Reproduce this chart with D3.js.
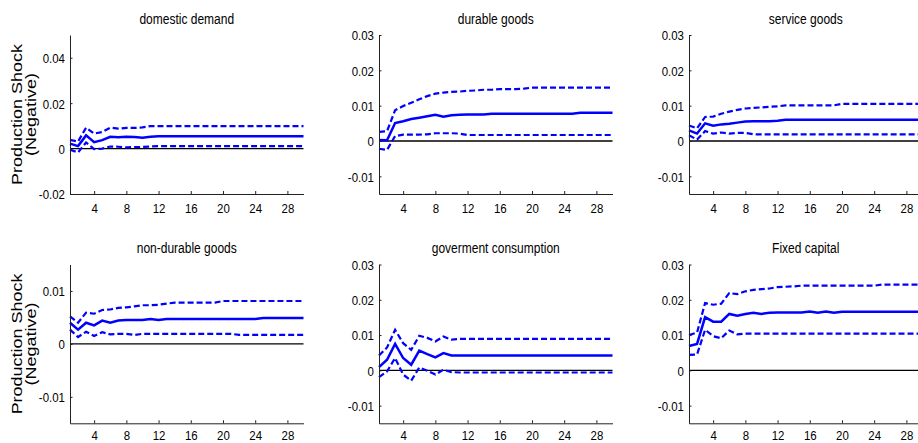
<!DOCTYPE html>
<html>
<head>
<meta charset="utf-8">
<script src="https://cdn.jsdelivr.net/npm/d3@7"></script>
<style>
  html, body { margin: 0; padding: 0; background: #fff; }
  svg { display: block; }
  text { font-family: "Liberation Sans", Arial, Helvetica, sans-serif; fill: #000; }
</style>
</head>
<body>
<svg id="chart" width="918" height="443"></svg>
<script>
// ---------- DATA ----------
const periods = [1,2,3,4,5,6,7,8,9,10,11,12,13,14,15,16,17,18,19,20,21,22,23,24,25,26,27,28,29,30];
const xTickValues = [4, 8, 12, 16, 20, 24, 28];
const yLabelLines = ["Production Shock", "(Negative)"];
const titles = ["domestic demand", "durable goods", "service goods", "non-durable goods", "goverment consumption", "Fixed capital"];

const domesticDemandMid = [
  0.0022,0.0011,0.0058,0.0028,0.0037,0.0052,0.0050,0.0052,0.0051,0.0048,
  0.0052,0.0054,0.0054,0.0054,0.0054,0.0054,0.0054,0.0054,0.0054,0.0054,
  0.0054,0.0054,0.0054,0.0054,0.0054,0.0054,0.0054,0.0054,0.0054,0.0054];
const domesticDemandUpper = [
  0.0038,0.0031,0.0092,0.0066,0.0073,0.0092,0.0088,0.0091,0.0091,0.0093,
  0.0099,0.0099,0.0099,0.0099,0.0099,0.0099,0.0099,0.0099,0.0099,0.0099,
  0.0099,0.0099,0.0099,0.0099,0.0099,0.0099,0.0099,0.0099,0.0099,0.0099];
const domesticDemandLower = [
  -0.0005,-0.0017,0.0027,-0.0002,0.0000,0.0009,0.0008,0.0005,0.0007,0.0007,
  0.0009,0.0011,0.0011,0.0011,0.0011,0.0011,0.0011,0.0011,0.0011,0.0011,
  0.0011,0.0011,0.0011,0.0011,0.0011,0.0011,0.0011,0.0011,0.0011,0.0011];

const durableMid = [
  0.0003,0.0002,0.0051,0.0056,0.0062,0.0066,0.0070,0.0074,0.0069,0.0073,
  0.0074,0.0075,0.0075,0.0075,0.0077,0.0077,0.0077,0.0077,0.0077,0.0077,
  0.0077,0.0077,0.0077,0.0077,0.0077,0.0080,0.0080,0.0080,0.0080,0.0080];
const durableUpper = [
  0.0026,0.0028,0.0087,0.0099,0.0108,0.0118,0.0127,0.0134,0.0137,0.0139,
  0.0140,0.0142,0.0143,0.0145,0.0145,0.0147,0.0147,0.0147,0.0148,0.0151,
  0.0151,0.0151,0.0151,0.0151,0.0151,0.0151,0.0151,0.0151,0.0151,0.0151];
const durableLower = [
  -0.0022,-0.0025,0.0014,0.0018,0.0018,0.0018,0.0019,0.0022,0.0022,0.0022,
  0.0021,0.0017,0.0017,0.0017,0.0017,0.0017,0.0017,0.0017,0.0017,0.0017,
  0.0017,0.0017,0.0017,0.0017,0.0017,0.0017,0.0017,0.0017,0.0017,0.0017];

const serviceMid = [
  0.0030,0.0021,0.0050,0.0043,0.0047,0.0049,0.0052,0.0055,0.0056,0.0056,
  0.0056,0.0057,0.0060,0.0060,0.0060,0.0060,0.0060,0.0060,0.0060,0.0060,
  0.0060,0.0060,0.0060,0.0060,0.0060,0.0060,0.0060,0.0060,0.0060,0.0060];
const serviceUpper = [
  0.0044,0.0036,0.0068,0.0069,0.0077,0.0083,0.0088,0.0092,0.0094,0.0095,
  0.0097,0.0098,0.0101,0.0101,0.0101,0.0101,0.0101,0.0101,0.0101,0.0105,
  0.0105,0.0105,0.0105,0.0105,0.0105,0.0105,0.0105,0.0105,0.0105,0.0105];
const serviceLower = [
  0.0016,0.0004,0.0028,0.0021,0.0024,0.0021,0.0023,0.0023,0.0019,0.0019,
  0.0019,0.0019,0.0019,0.0019,0.0019,0.0019,0.0019,0.0019,0.0019,0.0019,
  0.0019,0.0019,0.0019,0.0019,0.0019,0.0019,0.0019,0.0019,0.0019,0.0019];

const nonDurableMid = [
  0.0040,0.0027,0.0040,0.0035,0.0044,0.0040,0.0044,0.0045,0.0045,0.0045,
  0.0047,0.0045,0.0047,0.0047,0.0047,0.0047,0.0047,0.0047,0.0047,0.0047,
  0.0047,0.0047,0.0047,0.0047,0.0049,0.0049,0.0049,0.0049,0.0049,0.0049];
const nonDurableUpper = [
  0.0052,0.0040,0.0059,0.0057,0.0064,0.0065,0.0068,0.0069,0.0071,0.0073,
  0.0073,0.0074,0.0076,0.0078,0.0078,0.0078,0.0078,0.0078,0.0078,0.0081,
  0.0081,0.0081,0.0081,0.0081,0.0081,0.0081,0.0081,0.0081,0.0081,0.0081];
const nonDurableLower = [
  0.0027,0.0013,0.0023,0.0015,0.0022,0.0018,0.0019,0.0019,0.0017,0.0019,
  0.0019,0.0019,0.0019,0.0019,0.0019,0.0019,0.0019,0.0019,0.0019,0.0019,
  0.0019,0.0017,0.0017,0.0017,0.0017,0.0017,0.0017,0.0017,0.0017,0.0017];

const governmentMid = [
  0.0009,0.0030,0.0075,0.0035,0.0016,0.0056,0.0046,0.0037,0.0049,0.0042,
  0.0042,0.0042,0.0042,0.0042,0.0042,0.0042,0.0042,0.0042,0.0042,0.0042,
  0.0042,0.0042,0.0042,0.0042,0.0042,0.0042,0.0042,0.0042,0.0042,0.0042];
const governmentUpper = [
  0.0042,0.0065,0.0115,0.0077,0.0058,0.0098,0.0092,0.0082,0.0096,0.0087,
  0.0089,0.0089,0.0089,0.0089,0.0089,0.0089,0.0089,0.0089,0.0089,0.0089,
  0.0089,0.0089,0.0089,0.0089,0.0089,0.0089,0.0089,0.0089,0.0089,0.0089];
const governmentLower = [
  -0.0019,-0.0003,0.0035,-0.0012,-0.0029,0.0008,-0.0001,-0.0012,0.0002,-0.0005,
  -0.0006,-0.0006,-0.0006,-0.0006,-0.0006,-0.0006,-0.0006,-0.0006,-0.0006,-0.0006,
  -0.0006,-0.0006,-0.0006,-0.0006,-0.0006,-0.0006,-0.0006,-0.0006,-0.0006,-0.0006];

const fixedCapitalMid = [
  0.0069,0.0075,0.0151,0.0138,0.0138,0.0160,0.0155,0.0160,0.0163,0.0160,
  0.0163,0.0164,0.0164,0.0164,0.0164,0.0167,0.0163,0.0167,0.0163,0.0166,
  0.0166,0.0166,0.0166,0.0166,0.0166,0.0166,0.0166,0.0166,0.0166,0.0166];
const fixedCapitalUpper = [
  0.0100,0.0107,0.0191,0.0186,0.0189,0.0219,0.0216,0.0224,0.0228,0.0230,
  0.0232,0.0236,0.0237,0.0238,0.0240,0.0240,0.0240,0.0240,0.0240,0.0240,
  0.0240,0.0240,0.0240,0.0240,0.0243,0.0243,0.0243,0.0243,0.0243,0.0243];
const fixedCapitalLower = [
  0.0044,0.0045,0.0115,0.0097,0.0091,0.0113,0.0102,0.0104,0.0104,0.0104,
  0.0104,0.0104,0.0104,0.0104,0.0104,0.0104,0.0104,0.0104,0.0104,0.0104,
  0.0104,0.0104,0.0104,0.0104,0.0104,0.0104,0.0104,0.0104,0.0104,0.0104];

const yDomains = [[-0.02, 0.05], [-0.015, 0.03], [-0.015, 0.03], [-0.015, 0.015], [-0.015, 0.03], [-0.015, 0.03]];
const yTickSets = [
  [-0.02, 0, 0.02, 0.04],
  [-0.01, 0, 0.01, 0.02, 0.03],
  [-0.01, 0, 0.01, 0.02, 0.03],
  [-0.01, 0, 0.01],
  [-0.01, 0, 0.01, 0.02, 0.03],
  [-0.01, 0, 0.01, 0.02, 0.03]
];
const seriesSets = [
  [domesticDemandMid, domesticDemandUpper, domesticDemandLower],
  [durableMid, durableUpper, durableLower],
  [serviceMid, serviceUpper, serviceLower],
  [nonDurableMid, nonDurableUpper, nonDurableLower],
  [governmentMid, governmentUpper, governmentLower],
  [fixedCapitalMid, fixedCapitalUpper, fixedCapitalLower]
];

// ---------- LAYOUT ----------
const colLeft = [70, 379, 689];
const plotW = 233.5;
const rowTop = [35, 264.5];
const rowBottom = [194, 423.3];
const xLabelOffset = [19.3, 16.3];
const blue = "#0000ff";
const tickScaleX = 0.85;

const svg = d3.select("#chart");

function fmtTick(v) {
  if (v === 0) return "0";
  return (v < 0 ? "-" : "") + Math.abs(v).toFixed(2);
}

seriesSets.forEach((series, i) => {
  const col = i % 3, row = Math.floor(i / 3);
  const x = d3.scaleLinear().domain([1, 30]).range([colLeft[col], colLeft[col] + plotW]);
  const y = d3.scaleLinear().domain(yDomains[i]).range([rowBottom[row], rowTop[row]]);
  const g = svg.append("g");

  // zero line
  g.append("line")
    .attr("x1", x(1)).attr("x2", x(30))
    .attr("y1", y(0)).attr("y2", y(0))
    .attr("stroke", "#000").attr("stroke-width", 1.3);

  const line = d3.line().x((d, k) => x(periods[k])).y(d => y(d));
  // bands (dashed)
  [series[1], series[2]].forEach(s => {
    g.append("path").datum(s)
      .attr("d", line)
      .attr("fill", "none").attr("stroke", blue)
      .attr("stroke-width", 2.2).attr("stroke-dasharray", "6,3");
  });
  // mid (solid)
  g.append("path").datum(series[0])
    .attr("d", line)
    .attr("fill", "none").attr("stroke", blue).attr("stroke-width", 2.5);

  // axes
  const yAxis = d3.axisLeft(y).tickValues(yTickSets[i]).tickSizeInner(-2.5).tickSizeOuter(0).tickFormat(fmtTick);
  const ya = g.append("g").attr("transform", `translate(${colLeft[col]},0)`).call(yAxis);
  ya.select(".domain").attr("stroke", "#222").attr("stroke-width", 1);
  ya.selectAll(".tick line").attr("stroke", "#222");
  ya.selectAll(".tick text")
    .attr("x", 0).attr("dy", "0.36em")
    .attr("transform", `translate(-5,0) scale(${tickScaleX},1)`)
    .style("font-size", "13.5px").attr("fill", "#000");

  const xAxis = d3.axisBottom(x).tickValues(xTickValues).tickSizeInner(-3).tickSizeOuter(0).tickFormat(d3.format("d"));
  const xa = g.append("g").attr("transform", `translate(0,${rowBottom[row]})`).call(xAxis);
  xa.select(".domain").attr("stroke", "#222").attr("stroke-width", 1);
  xa.selectAll(".tick line").attr("stroke", "#222");
  xa.selectAll(".tick text")
    .attr("y", 0).attr("dy", 0)
    .attr("transform", `translate(0,${xLabelOffset[row]}) scale(${tickScaleX},1)`)
    .style("font-size", "13.5px").attr("fill", "#000");

  // title
  g.append("text")
    .attr("transform", `translate(${(x(1) + x(30)) / 2},${row === 0 ? 24 : 253}) scale(0.8,1)`)
    .attr("text-anchor", "middle")
    .style("font-size", "15px")
    .text(titles[i]);

  // y label on first column
  if (col === 0) {
    const cy = (rowTop[row] + rowBottom[row]) / 2;
    const t = g.append("text")
      .attr("transform", `translate(17.5,${cy}) scale(0.77,1) rotate(-90)`)
      .attr("text-anchor", "middle")
      .style("font-size", "18px");
    yLabelLines.forEach((s, k) => {
      t.append("tspan").attr("x", 0).attr("y", k * 18.2).attr("dy", "0.35em").text(s);
    });
  }
});
</script>
</body>
</html>
